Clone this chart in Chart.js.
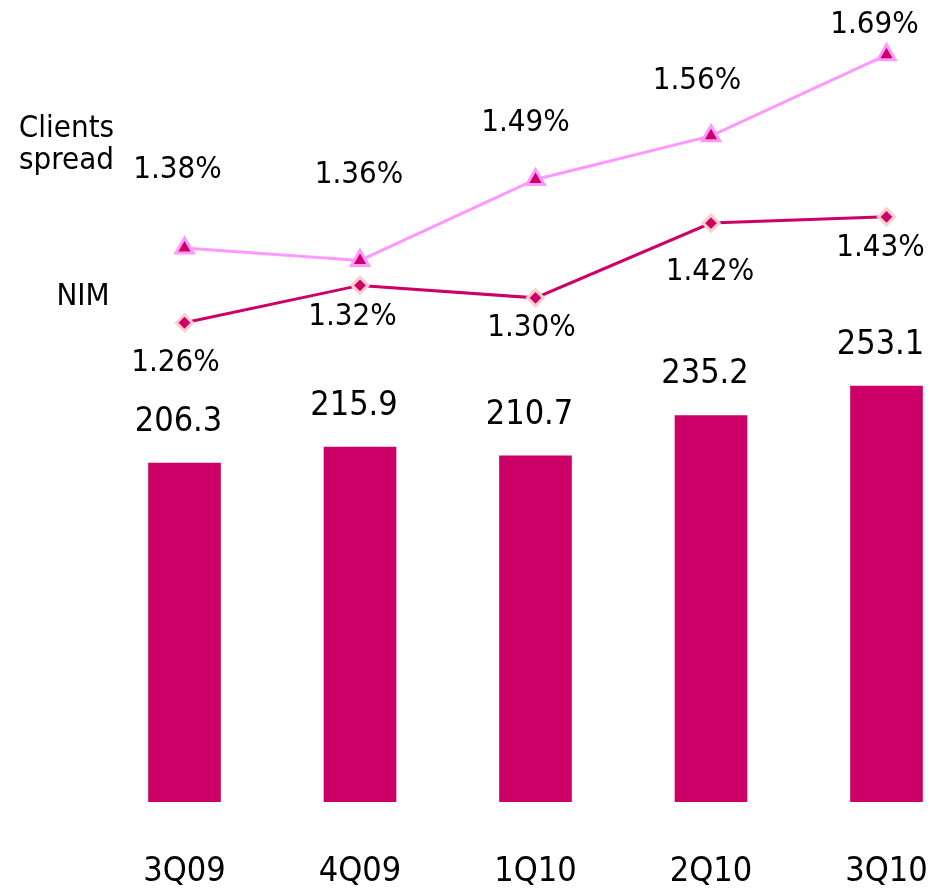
<!DOCTYPE html>
<html><head><meta charset="utf-8">
<script src="https://cdn.jsdelivr.net/npm/chart.js@4/dist/chart.umd.min.js"></script>
<style>html,body{margin:0;padding:0;background:#fff;overflow:hidden}#wrap{width:932px;height:888px;position:relative}</style>
</head><body><div id="wrap"><canvas id="c"></canvas></div>
<script>
// ---- data ----
const categories = ['3Q09', '4Q09', '1Q10', '2Q10', '3Q10'];
const volumes = [206.3, 215.9, 210.7, 235.2, 253.1];
const clientsSpread = [1.38, 1.36, 1.49, 1.56, 1.69];
const nim = [1.26, 1.32, 1.30, 1.42, 1.43];
const seriesNames = ['Clients spread', 'NIM'];

// ---- styling (label placement relative to marks) ----
const FONT = "'DejaVu Sans Condensed', 'DejaVu Sans', sans-serif";
const barLabelOffset = [-6, -41];
const clientsLabelOffsets = [[-7, -78], [-1, -86], [-10, -57], [-14, -55], [-12, -30]];
const nimLabelOffsets = [[-9, 40], [-7.5, 32], [-4, 30], [-1, 48.5], [-6, 31]];

const toXY = arr => arr.map((v, i) => ({ x: i, y: v }));

const labelPlugin = {
  id: 'labels',
  afterDatasetsDraw(chart) {
    const ctx = chart.ctx;
    ctx.save();
    ctx.fillStyle = '#000';
    ctx.textAlign = 'center';
    ctx.textBaseline = 'middle';
    chart.data.datasets.forEach((ds, di) => {
      const meta = chart.getDatasetMeta(di);
      meta.data.forEach((el, i) => {
        const v = ds.data[i].y;
        let off, txt;
        if (ds.kind === 'bar') { off = barLabelOffset; txt = v.toFixed(1); ctx.font = '34px ' + FONT; }
        else if (ds.kind === 'clients') { off = clientsLabelOffsets[i]; txt = v.toFixed(2) + '%'; ctx.font = '31px ' + FONT; }
        else { off = nimLabelOffsets[i]; txt = v.toFixed(2) + '%'; ctx.font = '31px ' + FONT; }
        ctx.fillText(txt, el.x + off[0], el.y + off[1]);
      });
    });
    // series names
    ctx.font = '31px ' + FONT;
    ctx.textBaseline = 'alphabetic';
    const words = seriesNames[0].split(' ');
    ctx.fillText(words[0], 66.5, 137);
    ctx.fillText(words[1], 66.5, 169);
    ctx.fillText(seriesNames[1], 83, 304.5);
    ctx.restore();
  }
};

new Chart(document.getElementById('c'), {
  data: {
    datasets: [
      {
        kind: 'clients', type: 'line', label: seriesNames[0], data: toXY(clientsSpread), yAxisID: 'yLine',
        borderColor: '#FF99FF', borderWidth: 3, pointStyle: 'triangle', pointRadius: 10,
        pointBackgroundColor: '#CC0066', pointBorderColor: '#FF99FF', pointBorderWidth: 3, order: 1
      },
      {
        kind: 'nim', type: 'line', label: seriesNames[1], data: toXY(nim), yAxisID: 'yLine',
        borderColor: '#CC0066', borderWidth: 3, pointStyle: 'rectRot', pointRadius: 8,
        pointBackgroundColor: '#CC0066', pointBorderColor: '#FFCCCC', pointBorderWidth: 3, order: 1
      },
      {
        kind: 'bar', type: 'bar', label: 'Volume', data: toXY(volumes), yAxisID: 'yBar',
        backgroundColor: '#CC0066', barThickness: 72, order: 2
      }
    ]
  },
  options: {
    responsive: true, maintainAspectRatio: false, animation: false, events: [],
    layout: { padding: 0, autoPadding: false },
    plugins: { legend: { display: false }, tooltip: { enabled: false } },
    scales: {
      x: {
        type: 'linear', min: -1.0513, max: 4.2593, offset: false, bounds: 'data',
        grid: { display: false, offset: false }, border: { display: false },
        afterBuildTicks: s => { s.ticks = categories.map((c, i) => ({ value: i })); },
        afterFit: s => { s.height = 86; s.paddingLeft = 0; s.paddingRight = 0; },
        ticks: {
          callback: v => categories[v], color: '#000', padding: 42,
          font: { family: FONT, size: 34 }, maxRotation: 0, autoSkip: false
        }
      },
      yBar: { display: false, min: 0, max: 488 },
      yLine: { display: false, min: 0.491, max: 1.778 }
    }
  },
  plugins: [labelPlugin]
});
</script>
</body></html>
